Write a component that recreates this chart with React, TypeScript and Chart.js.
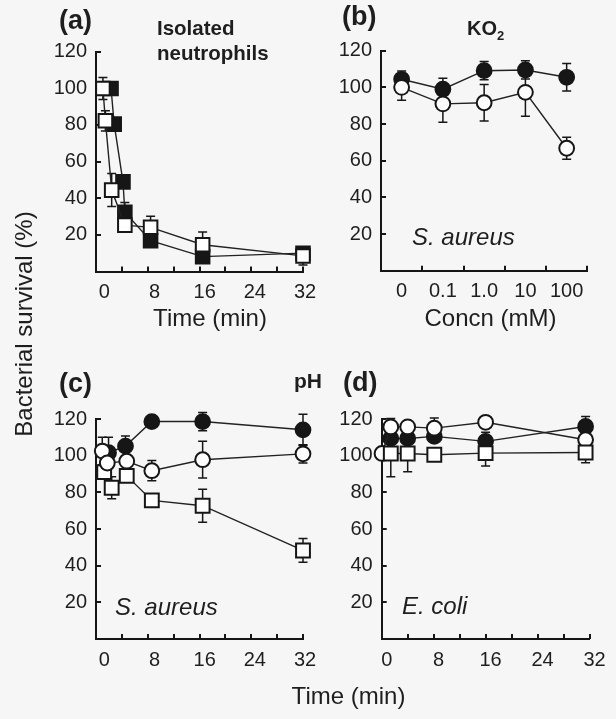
import React, { useEffect, useRef } from "react";
import { Chart, registerables } from "chart.js";
Chart.register(...registerables);

// ---------- shared ticks ----------
const timeTicks = [0, 8, 16, 24, 32];
const survivalTicks = [20, 40, 60, 80, 100, 120];
const concnLabels = ["0", "0.1", "1.0", "10", "100"];
const concnIndex = [0, 1, 2, 3, 4];

// ---------- (a) Isolated neutrophils ----------
const aOpenTime = [0.1, 0.5, 1.5, 3.6, 7.7, 16, 32];
const aOpenValue = [99.8, 82.2, 44.4, 25.3, 24.1, 14.6, 8.5];
const aOpenError = [6, 5.5, 9, 0, 6, 7, 5];
const aFilledTime = [1.4, 1.9, 3.3, 3.6, 7.7, 16, 32];
const aFilledValue = [99.8, 80.4, 48.9, 32.3, 16.8, 8.1, 10];
const aFilledError = [0, 3, 0, 5.4, 0, 0, 0];

// ---------- (b) KO2 ----------
const bFilledValue = [104.4, 99, 109.1, 109.5, 105.5];
const bFilledError = [4.5, 6, 5, 5, 7.5];
const bOpenValue = [100, 91, 91.6, 97.3, 66.8];
const bOpenError = [7, 10, 10, 13, 6];

// ---------- (c) pH, S. aureus ----------
const cOpenTime = [0, 0.8, 3.9, 7.9, 16, 32];
const cOpenValue = [102.5, 96, 97, 91.8, 97.8, 101];
const cOpenError = [7.5, 0, 0, 5.5, 10, 5];
const cFilledTime = [1, 3.7, 7.9, 16, 32];
const cFilledValue = [101.6, 105.2, 118.6, 118.6, 114.1];
const cFilledError = [8.4, 5.5, 0, 5, 8.5];
const cSquareTime = [0.3, 1.5, 3.9, 7.9, 16, 32];
const cSquareValue = [91, 82.5, 89, 75.6, 72.7, 48.3];
const cSquareError = [0, 6, 0, 0, 9, 6.5];

// ---------- (d) pH, E. coli ----------
const dOpenTime = [0.05, 1.4, 4, 8.1, 16, 31.4];
const dOpenValue = [101.2, 115.7, 115.7, 115, 118.2, 108.7];
const dOpenError = [0, 4.6, 0, 5.5, 0, 0];
const dFilledTime = [1.4, 4, 8.1, 16, 31.4];
const dFilledValue = [109.4, 109.4, 110.5, 107.8, 115.9];
const dFilledError = [0, 0, 3, 5, 5.5];
const dSquareTime = [1.4, 4, 8.1, 16, 31.4];
const dSquareValue = [101.2, 101.2, 100.5, 101.4, 101.7];
const dSquareError = [12.7, 10, 0, 7, 5.5];

const INK = "#161616";
const FONT = "'Liberation Sans', Arial, Helvetica, sans-serif";
const BG = "#f6f6f6";

type Kind = "filledCircle" | "openCircle" | "openSquare" | "filledSquare";

function series(label: string, xs: number[], ys: number[], errs: number[], kind: Kind, sq = 9.8) {
  const circle = kind.endsWith("Circle");
  const filled = kind.startsWith("filled");
  return {
    label,
    data: xs.map((x, i) => ({ x, y: ys[i] })),
    errors: errs,
    showLine: true,
    borderColor: "#222",
    borderWidth: 1.4,
    pointStyle: circle ? "circle" : "rect",
    pointRadius: circle ? 7.4 : sq,
    pointBackgroundColor: filled ? INK : "#ffffff",
    pointBorderColor: INK,
    pointBorderWidth: 2,
    clip: false,
    tension: 0,
  };
}

function makeDecor(divisions: number) {
  return {
    id: "decor",
    beforeDatasetsDraw(chart: any) {
      const ctx = chart.ctx;
      const ys = chart.scales.y;
      const area = chart.chartArea;
      ctx.save();
      ctx.strokeStyle = INK;
      ctx.lineWidth = 2;
      // inward x ticks
      const w = area.right - area.left;
      for (let k = 1; k <= divisions; k++) {
        const x = Math.round(area.left + (k * w) / divisions);
        ctx.beginPath();
        ctx.moveTo(x, area.bottom);
        ctx.lineTo(x, area.bottom - 5);
        ctx.stroke();
      }
      // inward y ticks
      survivalTicks.forEach((v) => {
        const y = Math.round(ys.getPixelForValue(v));
        ctx.beginPath();
        ctx.moveTo(area.left, y);
        ctx.lineTo(area.left + 5, y);
        ctx.stroke();
      });
      // error bars
      ctx.lineWidth = 1.5;
      chart.data.datasets.forEach((ds: any, di: number) => {
        const meta = chart.getDatasetMeta(di);
        (ds.errors || []).forEach((e: number, i: number) => {
          if (!e) return;
          const pt = meta.data[i];
          const v = ds.data[i].y;
          const top = ys.getPixelForValue(v + e);
          const bot = ys.getPixelForValue(v - e);
          ctx.beginPath();
          ctx.moveTo(pt.x, top);
          ctx.lineTo(pt.x, bot);
          ctx.moveTo(pt.x - 4.5, top);
          ctx.lineTo(pt.x + 4.5, top);
          ctx.moveTo(pt.x - 4.5, bot);
          ctx.lineTo(pt.x + 4.5, bot);
          ctx.stroke();
        });
      });
      ctx.restore();
    },
  };
}

type Panel = {
  left: number; top: number; width: number; height: number;
  area: { l: number; t: number; r: number; b: number };
  xMin: number; xMax: number; xTicks: number[]; xLabel?: (v: number) => string;
  labelOffset: number; divisions: number; datasets: any[];
};

const panels: Panel[] = [
  {
    left: 0, top: 0, width: 330, height: 310,
    area: { l: 96, t: 51.5, r: 303, b: 271.5 },
    xMin: -1, xMax: 32, xTicks: timeTicks, labelOffset: 2, divisions: 8,
    datasets: [
      series("open", aOpenTime, aOpenValue, aOpenError, "openSquare", 9.6),
      series("filled", aFilledTime, aFilledValue, aFilledError, "filledSquare", 9.6),
    ],
  },
  {
    left: 330, top: 0, width: 286, height: 310,
    area: { l: 381, t: 50.7, r: 587.3, b: 270.7 },
    xMin: -0.5, xMax: 4.5, xTicks: concnIndex, xLabel: (v) => concnLabels[v] ?? "",
    labelOffset: 0, divisions: 5,
    datasets: [
      series("open", concnIndex, bOpenValue, bOpenError, "openCircle"),
      series("filled", concnIndex, bFilledValue, bFilledError, "filledCircle"),
    ],
  },
  {
    left: 0, top: 340, width: 330, height: 340,
    area: { l: 96, t: 419, r: 303, b: 639 },
    xMin: -1, xMax: 32, xTicks: timeTicks, labelOffset: 2, divisions: 8,
    datasets: [
      series("open circle", cOpenTime, cOpenValue, cOpenError, "openCircle"),
      series("filled circle", cFilledTime, cFilledValue, cFilledError, "filledCircle"),
      series("open square", cSquareTime, cSquareValue, cSquareError, "openSquare"),
    ],
  },
  {
    left: 330, top: 340, width: 286, height: 340,
    area: { l: 381.7, t: 419, r: 589.5, b: 639 },
    xMin: 0, xMax: 32, xTicks: timeTicks, labelOffset: 5, divisions: 8,
    datasets: [
      series("open square", dSquareTime, dSquareValue, dSquareError, "openSquare"),
      series("open circle", dOpenTime, dOpenValue, dOpenError, "openCircle"),
      series("filled circle", dFilledTime, dFilledValue, dFilledError, "filledCircle"),
    ],
  },
];

function PanelChart({ p }: { p: Panel }) {
  const ref = useRef<HTMLCanvasElement>(null);
  useEffect(() => {
    const yW = p.area.l - p.left;
    const xH = 30;
    const padTop = p.area.t - p.top;
    const padRight = p.left + p.width - p.area.r;
    const padBottom = p.top + p.height - p.area.b - xH;
    const chart = new Chart(ref.current as HTMLCanvasElement, {
      type: "scatter",
      data: { datasets: p.datasets as any },
      plugins: [makeDecor(p.divisions) as any],
      options: {
        animation: false,
        responsive: false,
        devicePixelRatio: 1,
        events: [],
        layout: { padding: { top: padTop, right: padRight, bottom: padBottom, left: 0 } },
        plugins: {
          legend: { display: false },
          tooltip: { enabled: false },
        },
        scales: {
          x: {
            type: "linear",
            min: p.xMin,
            max: p.xMax,
            grid: { display: false, drawTicks: false },
            border: { display: true, color: INK, width: 2 },
            afterBuildTicks: (s: any) => { s.ticks = p.xTicks.map((v) => ({ value: v })); },
            afterFit: (s: any) => { s.height = xH; },
            ticks: {
              padding: 9,
              labelOffset: p.labelOffset,
              color: "#1e1e1e",
              font: { family: FONT, size: 20 },
              maxRotation: 0,
              autoSkip: false,
              callback: (v: any) => (p.xLabel ? p.xLabel(Number(v)) : String(v)),
            },
          },
          y: {
            type: "linear",
            min: 0,
            max: 120,
            grid: { display: false, drawTicks: false },
            border: { display: true, color: INK, width: 2 },
            afterBuildTicks: (s: any) => { s.ticks = survivalTicks.map((v) => ({ value: v })); },
            afterFit: (s: any) => { s.width = yW; },
            ticks: {
              padding: 9,
              color: "#1e1e1e",
              font: { family: FONT, size: 20 },
              autoSkip: false,
              callback: (v: any) => String(v),
            },
          },
        },
      } as any,
    });
    return () => chart.destroy();
  }, []);
  return (
    <canvas
      ref={ref}
      width={p.width}
      height={p.height}
      style={{ position: "absolute", left: p.left, top: p.top, width: p.width, height: p.height }}
    />
  );
}

export default function App() {
  return (
    <div style={{ position: "fixed", left: 0, top: 0, width: 616, height: 719, background: BG, overflow: "hidden" }}>
      {panels.map((p, i) => (
        <PanelChart key={i} p={p} />
      ))}
      <svg
        width={616}
        height={719}
        style={{ position: "absolute", left: 0, top: 0, pointerEvents: "none" }}
        fontFamily={FONT}
        fill="#1e1e1e"
      >
        <text x={59} y={29} fontSize={27} fontWeight="bold">(a)</text>
        <text x={342} y={25} fontSize={27} fontWeight="bold">(b)</text>
        <text x={59} y={392} fontSize={27} fontWeight="bold">(c)</text>
        <text x={343} y={391} fontSize={27} fontWeight="bold">(d)</text>
        <text x={157} y={35} fontSize={20.5} fontWeight="bold">Isolated</text>
        <text x={157} y={60} fontSize={20.5} fontWeight="bold">neutrophils</text>
        <text x={467} y={35} fontSize={20} fontWeight="bold">
          KO<tspan fontSize={13} dy={5}>2</tspan>
        </text>
        <text x={294} y={388} fontSize={21} fontWeight="bold">pH</text>
        <text x={412} y={245} fontSize={24} fontStyle="italic">S. aureus</text>
        <text x={115} y={615} fontSize={24} fontStyle="italic">S. aureus</text>
        <text x={402} y={614} fontSize={24} fontStyle="italic">E. coli</text>
        <text x={210} y={326} fontSize={24} textAnchor="middle">Time (min)</text>
        <text x={490.5} y={326} fontSize={24} textAnchor="middle">Concn (mM)</text>
        <text x={348.5} y={704} fontSize={24} textAnchor="middle">Time (min)</text>
        <text x={32} y={324} fontSize={24} textAnchor="middle" transform="rotate(-90 32 324)">
          Bacterial survival (%)
        </text>
      </svg>
    </div>
  );
}
